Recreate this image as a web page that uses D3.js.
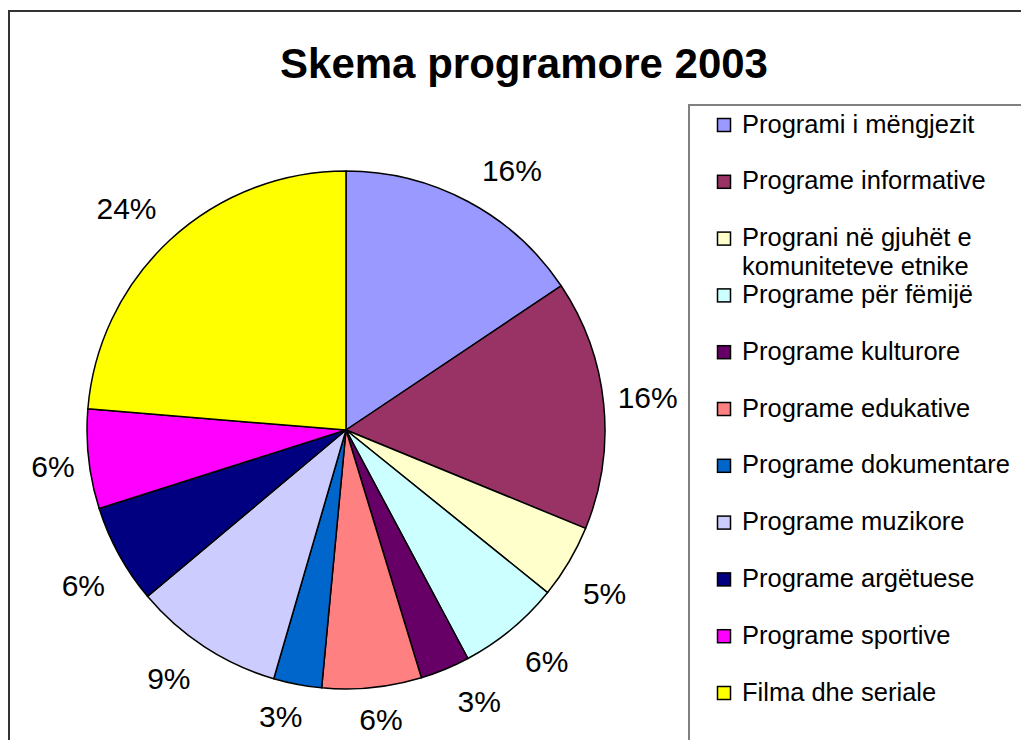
<!DOCTYPE html>
<html>
<head>
<meta charset="utf-8">
<script src="https://cdn.jsdelivr.net/npm/d3@7"></script>
<style>
  body { margin: 0; background: #ffffff; }
  svg { display: block; font-family: "Liberation Sans", Arial, sans-serif; }
</style>
</head>
<body>
<div class="pie_chart"></div>
<script>
// Data
var categories = [
  "Programi i mëngjezit",
  "Programe informative",
  "Prograni në gjuhët e|komuniteteve etnike",
  "Programe për fëmijë",
  "Programe kulturore",
  "Programe edukative",
  "Programe dokumentare",
  "Programe muzikore",
  "Programe argëtuese",
  "Programe sportive",
  "Filma dhe seriale"
];
var values = [15.6, 15.6, 4.6, 6.4, 3.1, 6.2, 3.0, 9.4, 6.2, 6.2, 23.7];
var colors = ["#9999ff", "#993366", "#ffffcc", "#ccffff", "#660066", "#ff8080",
              "#0066cc", "#ccccff", "#000080", "#ff00ff", "#ffff00"];
var title = "Skema programore 2003";

var width = 1021, height = 740;
var cx = 346, cy = 430, radius = 259;

var svg = d3.select(".pie_chart")
  .append("svg")
  .attr("width", width)
  .attr("height", height);

// Outer chart frame (runs off the page on right and bottom)
svg.append("rect")
  .attr("x", 9)
  .attr("y", 11)
  .attr("width", width + 20)
  .attr("height", height + 20)
  .attr("fill", "#ffffff")
  .attr("stroke", "#333333")
  .attr("stroke-width", 2);

// Title
svg.append("text")
  .attr("x", 524)
  .attr("y", 78)
  .attr("text-anchor", "middle")
  .style("font-size", "42px")
  .style("font-weight", "bold")
  .attr("fill", "#000000")
  .text(title);

// Pie
var total = d3.sum(values);
var color = d3.scaleOrdinal()
  .domain(categories)
  .range(colors);

var pie = d3.pie()
  .sort(null)
  .value(d => d.value);

var data = categories.map((c, i) => ({ key: c, value: values[i] }));
var arcs = pie(data);

var arc = d3.arc()
  .innerRadius(0)
  .outerRadius(radius);

var g = svg.append("g")
  .attr("transform", "translate(" + cx + "," + cy + ")");

g.selectAll("path")
  .data(arcs)
  .enter()
  .append("path")
    .attr("d", arc)
    .attr("fill", d => color(d.data.key))
    .attr("stroke", "#000000")
    .attr("stroke-width", 1.5)
    .attr("stroke-linejoin", "round");

// Percent labels: box sits off the rim point, like Excel does it
var labelSize = 30;
g.selectAll(".label")
  .data(arcs)
  .enter()
  .append("text")
    .attr("class", "label")
    .style("font-size", labelSize + "px")
    .attr("fill", "#000000")
    .attr("text-anchor", "middle")
    .text(d => Math.round(d.data.value / total * 100) + "%")
    .each(function(d) {
      var a = (d.startAngle + d.endAngle) / 2;
      var s = Math.sin(a), c = Math.cos(a);
      var hw = this.getComputedTextLength() / 2;
      var hh = 11.5;
      var x = radius * s + Math.sign(s) * (hw + 14) * Math.min(1, Math.abs(s) / 0.4);
      var y = -radius * c - Math.sign(c) * (hh + 20) * Math.min(1, Math.abs(c) / 0.5);
      d3.select(this)
        .attr("x", x)
        .attr("y", y + labelSize * 0.36);
    });

// Legend box (also runs off the page)
svg.append("rect")
  .attr("x", 689)
  .attr("y", 105)
  .attr("width", 400)
  .attr("height", 700)
  .attr("fill", "#ffffff")
  .attr("stroke", "#808080")
  .attr("stroke-width", 2);

var legendY = d3.scalePoint()
  .domain(categories)
  .range([125, 693]);

var legend = svg.append("g")
  .attr("class", "legend")
  .selectAll("g")
  .data(categories)
  .enter()
  .append("g")
    .attr("transform", d => "translate(717," + legendY(d) + ")");

legend.append("rect")
  .attr("x", 0.5)
  .attr("y", -6.5)
  .attr("width", 13)
  .attr("height", 13)
  .attr("fill", d => color(d))
  .attr("stroke", "#000000")
  .attr("stroke-width", 1.5);

legend.append("text")
  .attr("x", 25)
  .attr("y", 7.5)
  .style("font-size", "25.5px")
  .attr("fill", "#000000")
  .each(function(d) {
    var lines = d.split("|");
    var t = d3.select(this);
    lines.forEach((line, i) => {
      t.append("tspan")
        .attr("x", 25)
        .attr("dy", i === 0 ? 0 : 29)
        .text(line);
    });
  });
</script>
</body>
</html>
